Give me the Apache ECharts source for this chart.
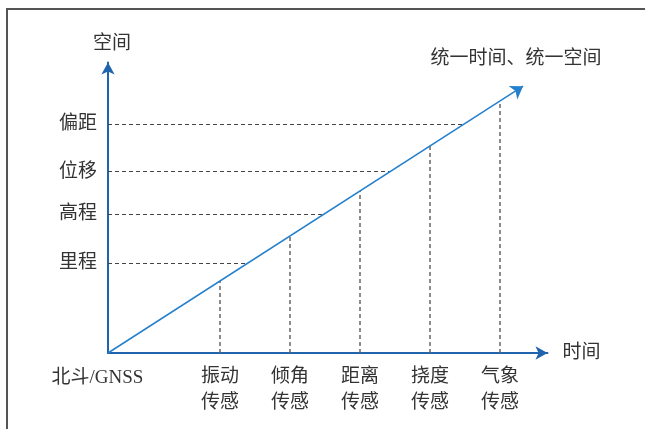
<!DOCTYPE html>
<html><head><meta charset="utf-8">
<script src="https://cdn.jsdelivr.net/npm/echarts@6/dist/echarts.min.js"></script>
<style>
html,body{margin:0;padding:0;background:#fff;overflow:hidden}
#c{width:645px;height:429px;position:absolute;left:0;top:0}
#f{position:absolute;left:6px;top:8px;width:700px;height:500px;border-left:2px solid #555;border-top:2px solid #555;pointer-events:none}
</style>
</head><body><div id="c"></div><div id="f"></div>
<script>
// ---- data ----
const sensorNames = ['振动\n传感', '倾角\n传感', '距离\n传感', '挠度\n传感', '气象\n传感'];
const sensorTimes = [1.6, 2.6, 3.6, 4.6, 5.6];
const spaceNames = ['里程', '高程', '位移', '偏距'];
const spaceValues = [2.0, 3.08, 4.03, 5.08];
const originName = '北斗/GNSS';
const diagonalEnd = [5.93, 5.93];
const xTitle = '时间';
const yTitle = '空间';
const unifiedLabel = '统一时间、统一空间';

const FONT = '"Liberation Serif","Noto Sans CJK SC",serif';
const TXT = '#333';
const AXIS = '#1f64ad';

function lookup(vals, names, v) {
  for (let i = 0; i < vals.length; i++) if (Math.abs(vals[i] - v) < 1e-6) return names[i];
  return '';
}

// the diagonal is y = x in data units
const vDash = sensorTimes.map(t => ({ coords: [[t, 0], [t, t]] }));
const hDash = spaceValues.map(v => ({ coords: [[0, v], [v, v]] }));

const chart = echarts.init(document.getElementById('c'), null, { renderer: 'canvas' });
chart.setOption({
  animation: false,
  backgroundColor: '#fff',
  grid: { left: 108, right: 97.5, top: 62.5, bottom: 76, containLabel: false, outerBoundsMode: 'none' },
  xAxis: {
    type: 'value', min: 0, max: 6.279,
    splitLine: { show: false }, axisTick: { show: false },
    axisLine: { show: true, symbol: ['none', 'arrow'], symbolSize: [10, 12], lineStyle: { color: AXIS, width: 2 } },
    axisLabel: {
      customValues: sensorTimes, formatter: v => lookup(sensorTimes, sensorNames, v),
      fontFamily: FONT, fontSize: 19, color: TXT, lineHeight: 26, margin: 11
    },
    name: xTitle, nameLocation: 'end', nameGap: 15,
    nameTextStyle: { fontFamily: FONT, fontSize: 19, color: TXT, verticalAlign: 'middle' }
  },
  yAxis: {
    type: 'value', min: 0, max: 6.456,
    splitLine: { show: false }, axisTick: { show: false },
    axisLine: { show: true, symbol: ['none', 'arrow'], symbolSize: [10, 12], lineStyle: { color: AXIS, width: 2 } },
    axisLabel: {
      customValues: spaceValues, formatter: v => lookup(spaceValues, spaceNames, v),
      fontFamily: FONT, fontSize: 19, color: TXT, margin: 11
    },
    name: yTitle, nameLocation: 'end', nameGap: 9,
    nameTextStyle: { fontFamily: FONT, fontSize: 19, color: TXT, padding: [0, 0, 0, 8] }
  },
  series: [
    {
      type: 'lines', coordinateSystem: 'cartesian2d', silent: true,
      data: vDash, symbol: 'none',
      lineStyle: { color: '#666', width: 1.5, type: [4, 3], opacity: 1 }
    },
    {
      type: 'lines', coordinateSystem: 'cartesian2d', silent: true,
      data: hDash, symbol: 'none',
      lineStyle: { color: '#444', width: 1.2, type: [4, 3], opacity: 1 }
    },
    {
      type: 'lines', coordinateSystem: 'cartesian2d', silent: true,
      data: [{ coords: [[0, 0], diagonalEnd] }],
      symbol: ['none', 'arrow'], symbolSize: [10, 12],
      lineStyle: { color: '#2580cc', width: 1.5, opacity: 1 }
    },
    {
      type: 'scatter', symbolSize: 0, silent: true, itemStyle: { opacity: 1 },
      data: [{ value: [0, 0], name: originName }],
      label: { show: true, position: 'inside', offset: [-10.5, 25], formatter: p => p.name,
        fontFamily: FONT, fontSize: 19, color: TXT, textBorderWidth: 0, opacity: 1 }
    },
    {
      type: 'scatter', symbolSize: 0, silent: true, itemStyle: { opacity: 1 },
      data: [{ value: diagonalEnd, name: unifiedLabel }],
      label: { show: true, position: 'inside', offset: [-7, -27], formatter: p => p.name,
        fontFamily: FONT, fontSize: 19, color: TXT, textBorderWidth: 0, opacity: 1 }
    }
  ]
});
</script>
</body></html>
